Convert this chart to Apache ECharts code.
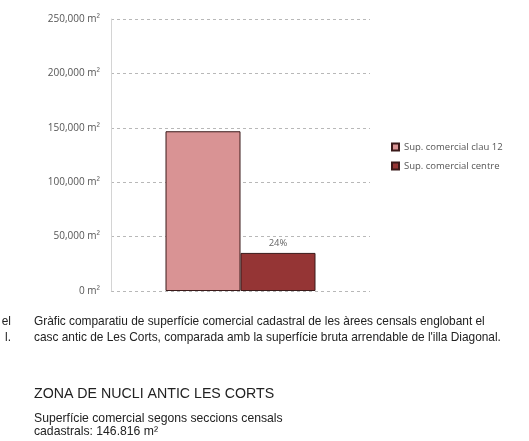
<!DOCTYPE html>
<html>
<head>
<meta charset="utf-8">
<script src="https://cdn.jsdelivr.net/npm/echarts@6/dist/echarts.min.js"></script>
<style>
  html, body { margin: 0; padding: 0; background: #fff; }
  #chart { width: 529px; height: 441px; }
</style>
</head>
<body>
<div id="chart"></div>
<script>
// Surface comparison: cadastral commercial area vs. shopping-centre leasable area
const categories = ['Les Corts'];
const seriesNames = ['Sup. comercial clau 12', 'Sup. comercial centre'];
const clau12 = [146816];
const centre = [35000];
const yTicks = [0, 50000, 100000, 150000, 200000, 250000];

const captionLines = [
  'Gràfic comparatiu de superfície comercial cadastral de les àrees censals englobant el',
  'casc antic de Les Corts, comparada amb la superfície bruta arrendable de l\'illa Diagonal.'
];
const sideFragments = ['el', 'l.'];
const heading = 'ZONA DE NUCLI ANTIC LES CORTS';
const noteLines = [
  'Superfície comercial segons seccions censals',
  'cadastrals: 146.816 m²'
];

const chartFont = "'Open Sans', 'Liberation Sans', sans-serif";
const textFont = "'Liberation Sans', Arial, sans-serif";

const chart = echarts.init(document.getElementById('chart'), null, { renderer: 'canvas' });

const fmt = v => v.toLocaleString('en-US') + ' m²';

const graphics = [];
captionLines.forEach((t, i) => graphics.push({
  type: 'text', left: 34, top: 316 + i * 16,
  style: { text: t, font: '11.9px ' + textFont, fill: '#222' }
}));
sideFragments.forEach((t, i) => graphics.push({
  type: 'text', right: 518, top: 316 + i * 16,
  style: { text: t, font: '11.9px ' + textFont, fill: '#222' }
}));
graphics.push({
  type: 'text', left: 34, top: 387,
  style: { text: heading, font: '14.2px ' + textFont, fill: '#222' }
});
noteLines.forEach((t, i) => graphics.push({
  type: 'text', left: 34, top: 413 + i * 13,
  style: { text: t, font: '12.2px ' + textFont, fill: '#222' }
}));

chart.setOption({
  animation: false,
  backgroundColor: '#fff',
  grid: { left: 111, right: 159, top: 19, bottom: 150, containLabel: false },
  legend: {
    orient: 'vertical', left: 386, top: 137,
    itemWidth: 7, itemHeight: 7, itemGap: 9,
    icon: 'rect',
    textStyle: { fontFamily: chartFont, fontSize: 9.5, color: '#555' },
    data: seriesNames
  },
  xAxis: {
    type: 'category', data: categories,
    axisLine: { show: false }, axisTick: { show: false }, axisLabel: { show: false }
  },
  yAxis: {
    type: 'value', min: yTicks[0], max: yTicks[yTicks.length - 1], interval: 50000,
    axisLine: { show: true, lineStyle: { color: '#d4d4d4', width: 1 } },
    axisTick: { show: false },
    axisLabel: { formatter: fmt, fontFamily: chartFont, fontSize: 10, color: '#555', margin: 11 },
    splitLine: { show: true, lineStyle: { color: '#b8b8b8', type: [3, 3], width: 1 } }
  },
  series: [
    {
      name: seriesNames[0], type: 'bar', data: clau12, barWidth: 75, barGap: '0%',
      itemStyle: { color: '#d99394', borderColor: '#3b1a1a', borderWidth: 1 }
    },
    {
      name: seriesNames[1], type: 'bar', data: centre, barWidth: 75, barGap: '0%',
      itemStyle: { color: '#953535', borderColor: '#3b1a1a', borderWidth: 1 },
      label: {
        show: true, position: 'top', distance: 5,
        formatter: p => Math.round(p.value / clau12[p.dataIndex] * 100) + '%',
        fontFamily: chartFont, fontSize: 9.5, color: '#666'
      }
    }
  ],
  graphic: graphics
});
</script>
</body>
</html>
